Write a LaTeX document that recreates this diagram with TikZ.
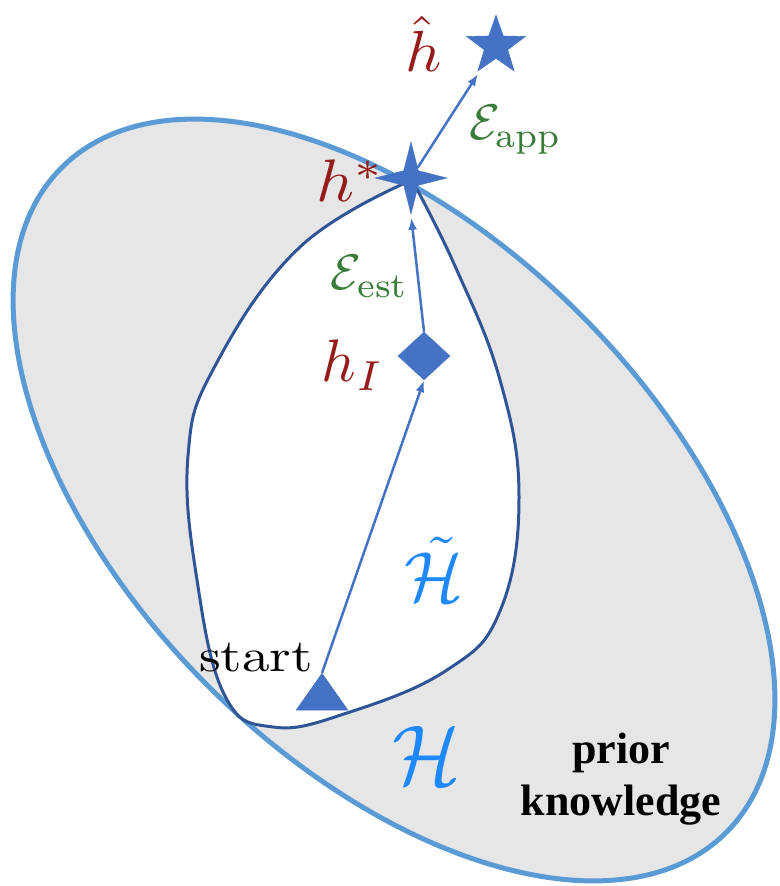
\documentclass[tikz,border=0pt]{standalone}
\usepackage{fontspec}
\newfontfamily\knowfont{Liberation Serif}
\usetikzlibrary{arrows.meta,shapes.geometric}
\definecolor{sky}{HTML}{5B9BD5}
\definecolor{navy}{HTML}{2F5597}
\definecolor{pointblue}{HTML}{4472C4}
\definecolor{wine}{HTML}{961B1B}
\definecolor{leaf}{HTML}{3A7D3A}
\definecolor{bright}{HTML}{1E88FF}
\definecolor{shade}{HTML}{E6E6E6}
\newcommand{\wide}[3]{\scalebox{#1}[#2]{#3}}

\begin{document}
\begin{tikzpicture}[x=1pt,y=1pt,>={Latex[length=12pt,width=9pt]},
lbl/.style={inner sep=0pt,anchor=base},
hyp/.style={fill=pointblue,draw=pointblue,inner sep=0pt},
link/.style={->,pointblue,line width=2.5pt}]
 \useasboundingbox (0,0) rectangle (779,886);
 % hypothesis space and the part of it that can be reached
 \draw[sky,line width=5pt,fill=shade,rotate around={-45:(394,386)}] (394,386) ellipse [x radius=470,y radius=263];
 \draw[navy,line width=3pt,fill=white] plot[smooth,tension=0.7] coordinates {(412,706) (300,639) (215,520) (188,430) (197,306) (225,190) (273,159) (347,173) (447,216) (500,275) (519,389) (500,506) (455,620) (412,706)} -- cycle;
 % hypotheses
 \node[hyp,regular polygon,regular polygon sides=3,minimum size=60pt,yscale=0.82,anchor=corner 1] (start) at (322,213) {};
 \node[hyp,diamond,minimum width=52pt,minimum height=48pt] (hI) at (424,530) {};
 \node[hyp,star,star points=4,star point ratio=3.5,minimum size=72pt] (hstar) at (411,708) {};
 \node[hyp,star,star points=5,star point ratio=2.5,minimum size=62pt] (hhat) at (496,840) {};
 \draw[link] (start.corner 1) -- (hI.south);
 \draw[link,shorten >=3pt] (hI.north) -- (hstar.south);
 \draw[link,shorten >=6pt] (hstar) -- (hhat);
 % labels
 \node[lbl] (start lbl) at (256,214) {\wide{5.52}{4.6}{start}};
 \node[lbl,text=wine] (hhat lbl) at (424,814) {\wide{6.3}{5.8}{$\hat h$}};
 \node[lbl,text=wine] (hstar lbl) at (351,684) {\wide{6.6}{6.0}{$h^*$}};
 \node[lbl,text=wine] (hI lbl) at (353,504) {\wide{6.0}{6.0}{$h_I$}};
 \node[lbl,text=leaf] (app lbl) at (516,746) {\wide{5.0}{5.0}{$\mathcal{E}_{\mathrm{app}}$}};
 \node[lbl,text=leaf] (est lbl) at (370,596) {\wide{5.0}{5.0}{$\mathcal{E}_{\mathrm{est}}$}};
 \node[lbl,text=bright] (Htilde lbl) at (434,284) {\wide{6.9}{7.1}{$\tilde{\mathcal{H}}$}};
 \node[lbl,text=bright] (H lbl) at (427,101) {\wide{8.0}{8.5}{$\mathcal{H}$}};
 \node[inner sep=0pt,align=center,font=\knowfont\bfseries\fontsize{44}{52}\selectfont] (prior) at (621,107) {prior\\knowledge};
\end{tikzpicture}
\end{document}
